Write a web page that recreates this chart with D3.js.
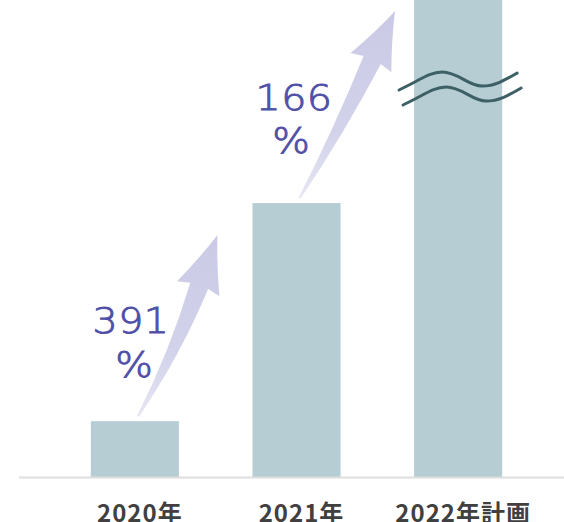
<!DOCTYPE html>
<html><head><meta charset="utf-8">
<script src="https://cdn.jsdelivr.net/npm/d3@7"></script>
<style>html,body{margin:0;padding:0;background:#fff;}svg{display:block;}</style>
</head><body>
<script>
const categories = ["2020年", "2021年", "2022年計画"];
const values = [100, 491, 1306];
const growthLabels = ["391", "166"];

const W = 564, H = 522;
const svg = d3.select("body").append("svg").attr("width", W).attr("height", H);
const defs = svg.append("defs");

const x = d3.scaleBand().domain(categories).range([10, 583]).paddingInner(0.455).paddingOuter(0.5);
const y = d3.scaleLinear().domain([0, 855]).range([477, 0]).clamp(true);

// arrows
const grad = defs.append("linearGradient").attr("id", "ag").attr("x1", 0).attr("y1", 1).attr("x2", 0).attr("y2", 0);
grad.append("stop").attr("offset", 0).attr("stop-color", "#e6e6f4");
grad.append("stop").attr("offset", 0.35).attr("stop-color", "#d2d2ea");
grad.append("stop").attr("offset", 1).attr("stop-color", "#cacae6");

function arrowPath(tail, tip, bendDeg, headLen, headW, shaftW) {
  const dx = tip[0] - tail[0], dy = tip[1] - tail[1];
  const L = Math.hypot(dx, dy);
  let ux = dx / L, uy = dy / L;
  const a = bendDeg * Math.PI / 180;
  const hx = ux * Math.cos(a) + uy * Math.sin(a);
  const hy = -ux * Math.sin(a) + uy * Math.cos(a);
  const nx = -hy, ny = hx;
  const B = [tip[0] - hx * headLen, tip[1] - hy * headLen];
  const k = Math.hypot(B[0] - tail[0], B[1] - tail[1]) * 0.5;
  const C = [B[0] - hx * k, B[1] - hy * k];
  const p = d3.path();
  const sl = [B[0] - nx * shaftW / 2, B[1] - ny * shaftW / 2];
  const sr = [B[0] + nx * shaftW / 2, B[1] + ny * shaftW / 2];
  const wl = [B[0] - nx * headW / 2 - hx * 3, B[1] - ny * headW / 2 - hy * 3];
  const wr = [B[0] + nx * headW / 2 - hx * 3, B[1] + ny * headW / 2 - hy * 3];
  p.moveTo(tail[0] - 1, tail[1]);
  p.quadraticCurveTo(C[0] - nx * shaftW * 0.3, C[1] - ny * shaftW * 0.3, sl[0], sl[1]);
  p.lineTo(wl[0], wl[1]);
  p.quadraticCurveTo((wl[0] + tip[0]) / 2 + nx * 2, (wl[1] + tip[1]) / 2 + ny * 2, tip[0], tip[1]);
  p.quadraticCurveTo((wr[0] + tip[0]) / 2 - nx * 2, (wr[1] + tip[1]) / 2 - ny * 2, wr[0], wr[1]);
  p.lineTo(sr[0], sr[1]);
  p.quadraticCurveTo(C[0] + nx * shaftW * 0.3, C[1] + ny * shaftW * 0.3, tail[0] + 1.5, tail[1]);
  p.closePath();
  return p.toString();
}

const arrowSpecs = growthLabels.map((g, i) => {
  const c0 = categories[i], c1 = categories[i + 1];
  const tail = [x(c0) + x.bandwidth() / 2 + 3, y(values[i]) - 5];
  const tip = [x(c1) - (i === 0 ? 35 : 19), y(values[i + 1]) + (i === 0 ? 32 : 11)];
  return { tail, tip, label: g, i };
});

svg.append("g").selectAll("path").data(arrowSpecs).join("path")
  .attr("d", d => arrowPath(d.tail, d.tip, d.i === 0 ? 4 : 2, 54, 45, 19))
  .attr("fill", "url(#ag)");

// bars
svg.append("g").selectAll("rect").data(categories).join("rect")
  .attr("x", d => x(d))
  .attr("width", x.bandwidth())
  .attr("y", (d, i) => y(values[i]))
  .attr("height", (d, i) => y(0) - y(values[i]))
  .attr("fill", "#b5cdd3");

// baseline
svg.append("line").attr("x1", 19).attr("x2", W).attr("y1", y(0) + 0.5).attr("y2", y(0) + 0.5)
  .attr("stroke", "#dedede").attr("stroke-width", 2);

// break marks on third bar
const bx = x(categories[2]) - 15;
function wave(ox, oy) {
  const p = d3.path();
  p.moveTo(ox, oy);
  p.bezierCurveTo(ox + 21, oy - 10, ox + 31, oy - 18, ox + 43, oy - 18);
  p.bezierCurveTo(ox + 59, oy - 18, ox + 69, oy - 4, ox + 83, oy - 4);
  p.bezierCurveTo(ox + 96, oy - 4, ox + 106, oy - 10, ox + 118, oy - 17);
  return p.toString();
}
svg.append("g").selectAll("path").data([[0, 0], [4, 15]]).join("path")
  .attr("d", d => wave(bx + d[0], 90 + d[1]))
  .attr("fill", "none").attr("stroke", "#3d5f66").attr("stroke-width", 3).attr("stroke-linecap", "round");

// growth labels
const lblPos = [[131, 333, 134, 377], [294, 110, 291, 153]];
const gl = svg.append("g").attr("font-family", "'DejaVu Sans', Verdana, sans-serif")
  .attr("font-weight", 200).attr("fill", "#4f4fa8").attr("stroke", "#4f4fa8").attr("stroke-width", 0.9)
  .attr("text-anchor", "middle").attr("font-size", 36);
arrowSpecs.forEach((a, i) => {
  gl.append("text").attr("transform", `translate(${lblPos[i][0]},${lblPos[i][1]}) scale(1.1,1)`)
    .attr("letter-spacing", 0.5).text(a.label);
  gl.append("text").attr("transform", `translate(${lblPos[i][2]},${lblPos[i][3]}) scale(1.1,1)`).text("%");
});

// category labels
svg.append("g").selectAll("text").data(categories).join("text")
  .attr("x", d => x(d) + x.bandwidth() / 2 + 5)
  .attr("y", 521.5)
  .attr("text-anchor", "middle")
  .attr("font-family", "'Noto Sans CJK JP', 'Noto Sans', sans-serif")
  .attr("font-weight", 700).attr("font-size", 24).attr("letter-spacing", 1)
  .attr("fill", "#404040")
  .text(d => d);
</script>
</body></html>
